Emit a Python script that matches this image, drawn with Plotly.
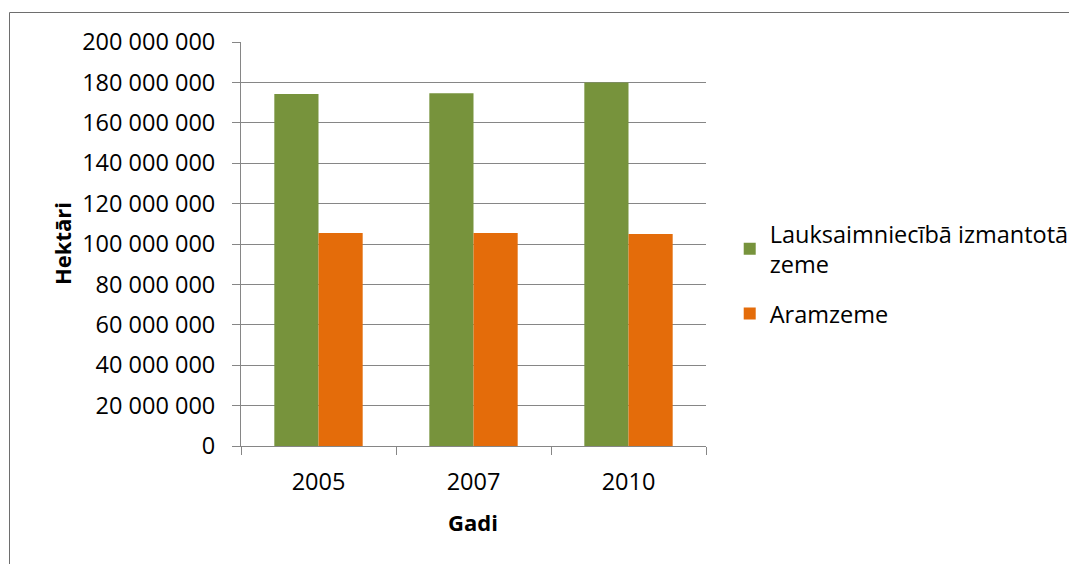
import plotly.graph_objects as go

# --- Data ---
years = ["2005", "2007", "2010"]
agri_land = [174_300_000, 174_600_000, 179_900_000]   # Lauksaimniecībā izmantotā zeme
arable_land = [105_400_000, 105_400_000, 105_000_000]  # Aramzeme
y_ticks = [0, 20e6, 40e6, 60e6, 80e6, 100e6, 120e6, 140e6, 160e6, 180e6, 200e6]

FONT = "Open Sans"
GRID = "#868686"

# page body has an 8px margin, so the plot area is placed 8px up/left
L, T, PW, PH = 233, 34, 465, 404

fig = go.Figure()
fig.add_bar(x=years, y=agri_land, name="Lauksaimniecībā izmantotā<br>zeme",
            legendgroup="a", marker=dict(color="#77933C", line=dict(width=0)))
fig.add_bar(x=years, y=arable_land, name="Aramzeme",
            legendgroup="b", marker=dict(color="#E46C0A", line=dict(width=0)))

fig.update_layout(
    width=1077, height=564,
    template="plotly_white",
    plot_bgcolor="white", paper_bgcolor="white",
    margin=dict(l=L, r=1077 - L - PW, t=T, b=564 - T - PH, autoexpand=False),
    barmode="group", bargap=0.43, bargroupgap=0,
    separators=", ",
    font=dict(family=FONT, size=23.5, color="black"),
    showlegend=True,
    legend=dict(x=1.051, y=0.58, xanchor="left", yanchor="top",
                font=dict(family=FONT, size=23.5, color="black"),
                tracegroupgap=16, itemwidth=30, bgcolor="rgba(0,0,0,0)"),
)
fig.update_yaxes(
    range=[0, 200e6], tickvals=y_ticks, tickformat=",d",
    showgrid=True, gridcolor=GRID, gridwidth=1,
    showline=True, linecolor=GRID, linewidth=1,
    ticks="outside", ticklen=8, tickcolor=GRID,
    ticklabelstandoff=12, zeroline=False, automargin=False,
)
fig.update_xaxes(
    showgrid=False, showline=True, linecolor=GRID, linewidth=1,
    ticks="outside", ticklen=8, tickcolor=GRID, tickson="boundaries",
    ticklabelstandoff=15, automargin=False,
)

# axis titles
fig.add_annotation(text="<b>Hektāri</b>", xref="paper", yref="paper",
                   x=(62 - 241) / PW, y=(446 - 244) / PH, textangle=-90,
                   xanchor="center", yanchor="middle",
                   showarrow=False, font=dict(family=FONT, size=22, color="black"))
fig.add_annotation(text="<b>Gadi</b>", xref="paper", yref="paper",
                   x=(473 - 241) / PW, y=(446 - 522) / PH,
                   xanchor="center", yanchor="middle",
                   showarrow=False, font=dict(family=FONT, size=22, color="black"))

# chart border (left and top visible, rest outside the frame)
fig.add_shape(type="rect", xref="paper", yref="paper",
              x0=(9.5 - 241) / PW, x1=(1085 - 241) / PW,
              y0=(446 - 575) / PH, y1=(446 - 12.5) / PH,
              line=dict(color="#6E6E6E", width=1), layer="below")

fig.write_html("out.html")
